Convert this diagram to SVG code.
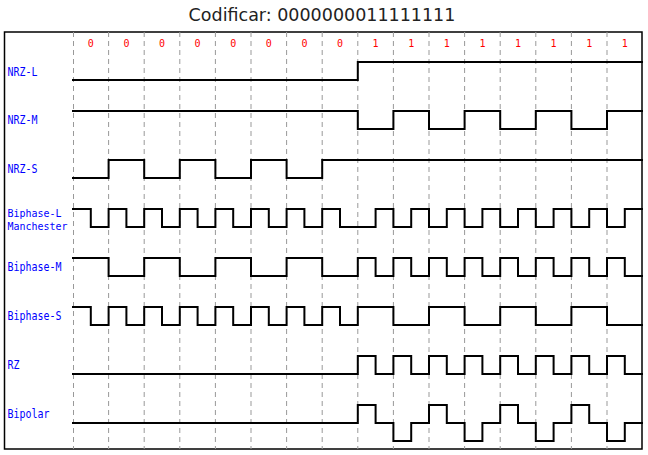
<svg xmlns="http://www.w3.org/2000/svg" width="648" height="455" viewBox="0 0 648 455">
<style>
.title{font-family:"DejaVu Sans","Liberation Sans",sans-serif;font-size:17.5px;fill:#222}
.lbl{font-family:"DejaVu Sans Mono","Liberation Mono",monospace;font-size:12px;fill:#0000ff}
.lbl2{font-family:"DejaVu Sans Mono","Liberation Mono",monospace;font-size:10.5px;fill:#0000ff}
.bit{font-family:"DejaVu Sans Mono","Liberation Mono",monospace;font-size:10px;fill:#ff0000;text-anchor:middle}
.grid{stroke:#999;stroke-width:1;stroke-dasharray:5,4;fill:none}
.wave{stroke:#000;stroke-width:2;fill:none;stroke-linejoin:miter;stroke-linecap:square}
.frame{stroke:#000;stroke-width:1.5;fill:#fff}
</style>
<rect width="648" height="455" fill="#fff"/>
<text class="title" x="322" y="20.5" text-anchor="middle">Codificar: 0000000011111111</text>
<rect class="frame" x="4.5" y="32" width="637.5" height="417"/>
<g id="grid">
<path class="grid" d="M73.5,32V449M108.6,32V449M144.2,32V449M179.8,32V449M215.4,32V449M251,32V449M286.6,32V449M322.2,32V449M357.8,32V449M393.4,32V449M429,32V449M464.6,32V449M500.2,32V449M535.8,32V449M571.4,32V449M607,32V449"/>
</g>
<g id="bits">
<text class="bit" x="90.8" y="46.5">0</text>
<text class="bit" x="126.4" y="46.5">0</text>
<text class="bit" x="162" y="46.5">0</text>
<text class="bit" x="197.6" y="46.5">0</text>
<text class="bit" x="233.2" y="46.5">0</text>
<text class="bit" x="268.8" y="46.5">0</text>
<text class="bit" x="304.4" y="46.5">0</text>
<text class="bit" x="340" y="46.5">0</text>
<text class="bit" x="375.6" y="46.5">1</text>
<text class="bit" x="411.2" y="46.5">1</text>
<text class="bit" x="446.8" y="46.5">1</text>
<text class="bit" x="482.4" y="46.5">1</text>
<text class="bit" x="518" y="46.5">1</text>
<text class="bit" x="553.6" y="46.5">1</text>
<text class="bit" x="589.2" y="46.5">1</text>
<text class="bit" x="624.8" y="46.5">1</text>
</g>
<g id="connectors"></g>
<g id="nrz-l">
<text class="lbl" x="7.5" y="75.5" textLength="30" lengthAdjust="spacingAndGlyphs">NRZ-L</text>
<path class="wave" d="M73,80H357.8V62H642"/>
</g>
<g id="nrz-m">
<text class="lbl" x="7.5" y="124.3" textLength="30" lengthAdjust="spacingAndGlyphs">NRZ-M</text>
<path class="wave" d="M73,111H357.8V129H393.4V111H429V129H464.6V111H500.2V129H535.8V111H571.4V129H607V111H642"/>
</g>
<g id="nrz-s">
<text class="lbl" x="7.5" y="173" textLength="30" lengthAdjust="spacingAndGlyphs">NRZ-S</text>
<path class="wave" d="M73,178H108.6V160H144.2V178H179.8V160H215.4V178H251V160H286.6V178H322.2V160H642"/>
</g>
<g id="biphase-l">
<text class="lbl2" x="7.5" y="216.5" textLength="54" lengthAdjust="spacingAndGlyphs">Biphase-L</text>
<text class="lbl2" x="7.5" y="229.6" textLength="60" lengthAdjust="spacingAndGlyphs">Manchester</text>
<path class="wave" d="M73,209H90.8V227H108.6V209H126.4V227H144.2V209H162V227H179.8V209H197.6V227H215.4V209H233.2V227H251V209H268.8V227H286.6V209H304.4V227H322.2V209H340V227H375.6V209H393.4V227H411.2V209H429V227H446.8V209H464.6V227H482.4V209H500.2V227H518V209H535.8V227H553.6V209H571.4V227H589.2V209H607V227H624.8V209H642"/>
</g>
<g id="biphase-m">
<text class="lbl" x="7.5" y="270.8" textLength="54" lengthAdjust="spacingAndGlyphs">Biphase-M</text>
<path class="wave" d="M73,258H108.6V276H144.2V258H179.8V276H215.4V258H251V276H286.6V258H322.2V276H357.8V258H375.6V276H393.4V258H411.2V276H429V258H446.8V276H464.6V258H482.4V276H500.2V258H518V276H535.8V258H553.6V276H571.4V258H589.2V276H607V258H624.8V276H642"/>
</g>
<g id="biphase-s">
<text class="lbl" x="7.5" y="319.8" textLength="54" lengthAdjust="spacingAndGlyphs">Biphase-S</text>
<path class="wave" d="M73,307H90.8V325H108.6V307H126.4V325H144.2V307H162V325H179.8V307H197.6V325H215.4V307H233.2V325H251V307H268.8V325H286.6V307H304.4V325H322.2V307H340V325H357.8V307H393.4V325H429V307H464.6V325H500.2V307H535.8V325H571.4V307H607V325H642"/>
</g>
<g id="rz">
<text class="lbl" x="7.5" y="368.5" textLength="12" lengthAdjust="spacingAndGlyphs">RZ</text>
<path class="wave" d="M73,374H357.8V356H375.6V374H393.4V356H411.2V374H429V356H446.8V374H464.6V356H482.4V374H500.2V356H518V374H535.8V356H553.6V374H571.4V356H589.2V374H607V356H624.8V374H642"/>
</g>
<g id="bipolar">
<text class="lbl" x="7.5" y="417.5" textLength="42" lengthAdjust="spacingAndGlyphs">Bipolar</text>
<path class="wave" d="M73,423H357.8V405H375.6V423H393.4V441H411.2V423H429V405H446.8V423H464.6V441H482.4V423H500.2V405H518V423H535.8V441H553.6V423H571.4V405H589.2V423H607V441H624.8V423H642"/>
</g>
</svg>
